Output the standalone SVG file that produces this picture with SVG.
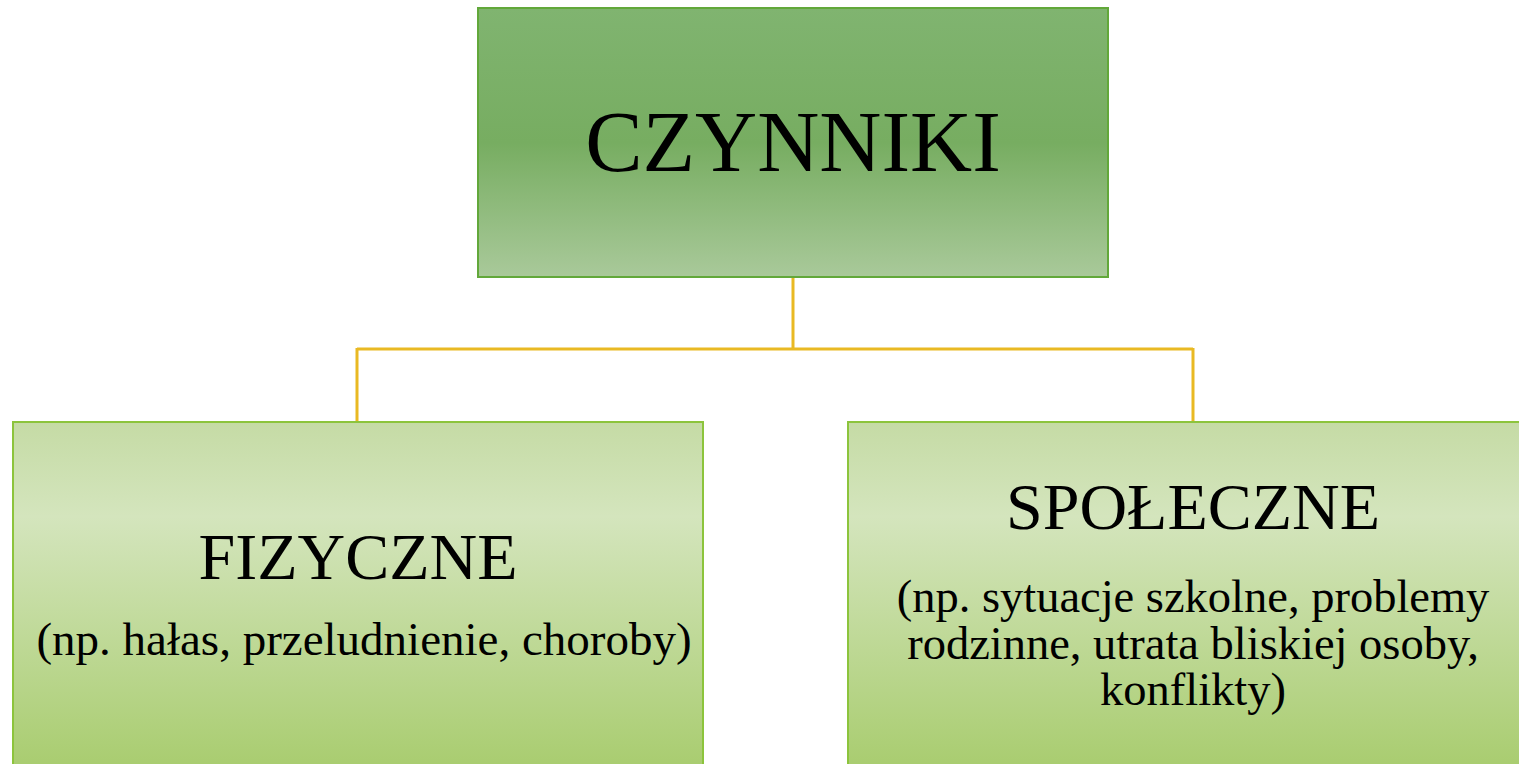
<svg xmlns="http://www.w3.org/2000/svg" width="1519" height="764" viewBox="0 0 1519 764">
<defs>
<linearGradient id="gTop" x1="0" y1="0" x2="0" y2="1">
<stop offset="0" stop-color="#80b470"/>
<stop offset="0.5" stop-color="#77ad61"/>
<stop offset="1" stop-color="#a9c99a"/>
</linearGradient>
<linearGradient id="gBot" x1="0" y1="0" x2="0" y2="1">
<stop offset="0" stop-color="#c5dba5"/>
<stop offset="0.27" stop-color="#d4e5bd"/>
<stop offset="1" stop-color="#a8cc6e"/>
</linearGradient>
</defs>
<style>
.top{fill:url(#gTop);stroke:#62a83a;stroke-width:2}
.bot{fill:url(#gBot);stroke:#8cc43c;stroke-width:2}
.conn{fill:none;stroke:#e9b923;stroke-width:3}
text{font-family:"Liberation Serif","Times New Roman",serif;fill:#000;text-anchor:middle}
</style>
<g id="connectors">
<path class="conn" d="M793 277 V349 M357 349 H1193 M357 348 V422 M1193 348 V422"/>
</g>
<g id="czynniki">
<rect class="top" x="478" y="8" width="630" height="269"/>
<text x="793" y="171" font-size="86">CZYNNIKI</text>
</g>
<g id="fizyczne">
<rect class="bot" x="13" y="422" width="690" height="350"/>
<text x="358" y="579" font-size="66">FIZYCZNE</text>
<text x="364" y="655" font-size="47">(np. hałas, przeludnienie, choroby)</text>
</g>
<g id="spoleczne">
<rect class="bot" x="848" y="422" width="680" height="350"/>
<text x="1193" y="529" font-size="66">SPOŁECZNE</text>
<text x="1193" y="612" font-size="46.5">(np. sytuacje szkolne, problemy</text>
<text x="1193" y="659" font-size="46.5">rodzinne, utrata bliskiej osoby,</text>
<text x="1193" y="705" font-size="46.5">konflikty)</text>
</g>
</svg>
